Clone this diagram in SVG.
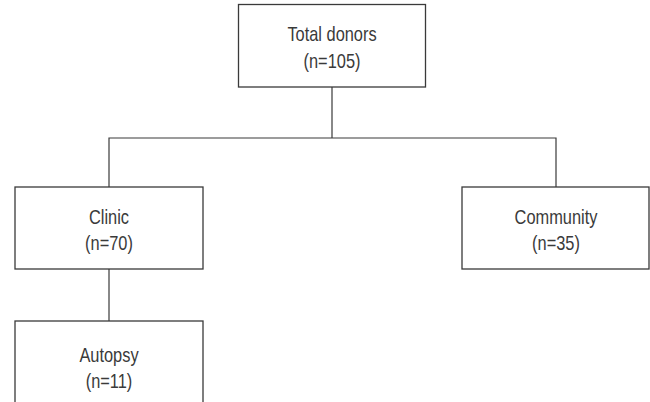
<svg xmlns="http://www.w3.org/2000/svg" width="650" height="402" viewBox="0 0 650 402">
<style>
.box{fill:#fff;stroke:#3a3a3a;stroke-width:1.3}
.ln{fill:none;stroke:#3a3a3a;stroke-width:1.2}
text{font-family:"Liberation Sans",Arial,sans-serif;font-size:20px;fill:#3a3a3a;text-anchor:middle}
</style>
<rect width="650" height="402" fill="#fff"/>
<g id="connectors">
<path class="ln" d="M332,87 V138 M109,187 V138 H556 V187 M109,269 V321"/>
</g>
<g id="total">
<rect class="box" x="238.5" y="4.5" width="187" height="82.5"/>
<g transform="translate(332,0) scale(0.82,1)">
<text x="0" y="41">Total donors</text>
<text x="0" y="68">(n=105)</text>
</g>
</g>
<g id="clinic">
<rect class="box" x="15" y="187" width="188" height="82"/>
<g transform="translate(109,0) scale(0.82,1)">
<text x="0" y="224">Clinic</text>
<text x="0" y="250">(n=70)</text>
</g>
</g>
<g id="community">
<rect class="box" x="462" y="187" width="187" height="82"/>
<g transform="translate(556,0) scale(0.82,1)">
<text x="0" y="224">Community</text>
<text x="0" y="250">(n=35)</text>
</g>
</g>
<g id="autopsy">
<rect class="box" x="15" y="321" width="188" height="100"/>
<g transform="translate(109,0) scale(0.82,1)">
<text x="0" y="362">Autopsy</text>
<text x="0" y="388">(n=11)</text>
</g>
</g>
</svg>
